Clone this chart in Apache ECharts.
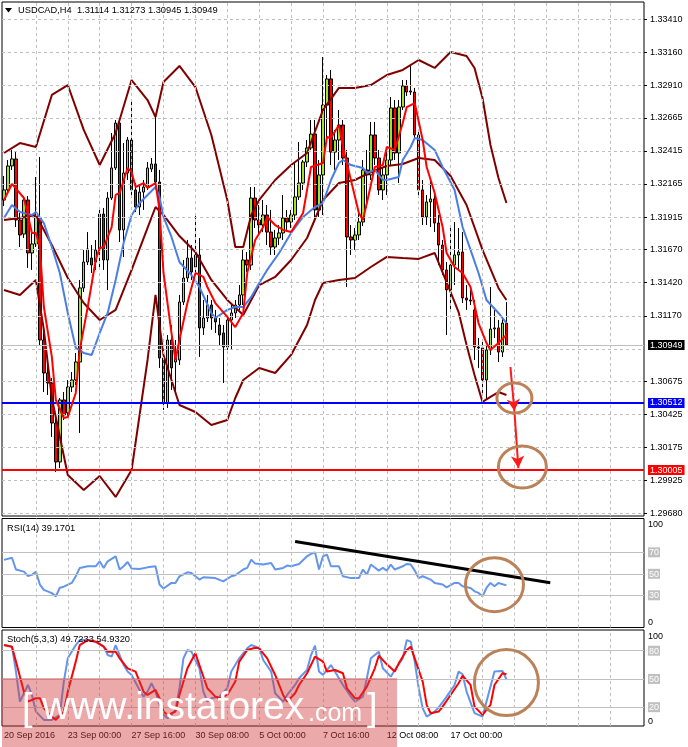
<!DOCTYPE html>
<html><head><meta charset="utf-8">
<script src="https://cdn.jsdelivr.net/npm/echarts@6/dist/echarts.min.js"></script>
<style>html,body{margin:0;padding:0;background:#fff}#c{width:688px;height:747px}</style>
</head><body><div id="c"></div>
<script>
// ---------- DATA ----------
const symbolTitle = 'USDCAD,H4  1.31114 1.31273 1.30945 1.30949';
const rsiTitle = 'RSI(14) 39.1701';
const stochTitle = 'Stoch(5,3,3) 49.7233 54.9320';
const dateLabels = ['20 Sep 2016','23 Sep 00:00','27 Sep 16:00','30 Sep 08:00','5 Oct 00:00','7 Oct 16:00','12 Oct 08:00','17 Oct 00:00'];
const labelStep = 16;
const slotCount = 161;
const priceTicks = [1.33410,1.33160,1.32910,1.32665,1.32415,1.32165,1.31915,1.31670,1.31420,1.31170,1.30920,1.30675,1.30425,1.30175,1.29925,1.29680];
const priceLabels = [1.33410,1.33160,1.32910,1.32665,1.32415,1.32165,1.31915,1.31670,1.31420,1.31170,1.30675,1.30425,1.30175,1.29925,1.29680];
const lastPrice = 1.30949;
const supportBlue = 1.30512;
const supportRed = 1.30005;

const opens = [1.32044,1.32120,1.32301,1.32354,1.31893,1.31787,1.32044,1.31644,1.31712,1.31908,
1.30987,1.30738,1.30662,1.30360,1.30066,1.30534,1.30436,1.30632,1.30685,1.30821,
1.31380,1.31576,1.31606,1.31576,1.31667,1.31938,1.31591,1.32059,1.32286,1.32625,
1.31818,1.32248,1.32497,1.32120,1.31991,1.32104,1.32142,1.32278,1.32316,1.32180,
1.30851,1.30511,1.30987,1.30821,1.30836,1.31274,1.31455,1.31606,1.31538,1.31629,
1.31078,1.31153,1.31251,1.31153,1.31100,1.31040,1.30934,1.31138,1.31191,1.31251,
1.31327,1.31591,1.31553,1.32059,1.31893,1.31855,1.31931,1.31802,1.31689,1.31757,
1.31795,1.31908,1.31878,1.31931,1.32067,1.32172,1.32331,1.32437,1.32542,1.31969,
1.32233,1.32761,1.32958,1.32406,1.32497,1.32610,1.32361,1.31765,1.31742,1.31780,
1.31878,1.32271,1.32233,1.32535,1.32361,1.32120,1.32233,1.32346,1.32739,1.32399,
1.32746,1.32905,1.32859,1.32859,1.32535,1.32120,1.31916,1.32029,1.32052,1.31870,
1.31704,1.31516,1.31365,1.31553,1.31629,1.31651,1.31304,1.31289,1.31214,1.30934,
1.30927,1.30685,1.30912,1.31070,1.31078,1.30896,1.31114];
const closes = [1.32120,1.32301,1.32354,1.31893,1.31780,1.32044,1.31644,1.31712,1.31923,1.30987,
1.30738,1.30662,1.30360,1.30066,1.30534,1.30421,1.30632,1.30685,1.30821,1.31380,
1.31576,1.31674,1.31553,1.31667,1.31938,1.31591,1.32059,1.32286,1.32625,1.31818,
1.32248,1.32497,1.32120,1.31991,1.32104,1.32142,1.32286,1.32316,1.32180,1.30851,
1.30511,1.30987,1.30776,1.30851,1.31274,1.31455,1.31606,1.31500,1.31629,1.31078,
1.31153,1.31251,1.31153,1.31123,1.31025,1.30934,1.31138,1.31191,1.31251,1.31327,
1.31591,1.31553,1.32059,1.31893,1.31855,1.31931,1.31802,1.31689,1.31757,1.31795,
1.31908,1.31878,1.31931,1.32067,1.32172,1.32331,1.32437,1.32542,1.31969,1.32233,
1.32761,1.32958,1.32406,1.32497,1.32610,1.32361,1.31765,1.31742,1.31780,1.31878,
1.32271,1.32233,1.32535,1.32361,1.32120,1.32233,1.32346,1.32739,1.32399,1.32746,
1.32905,1.32859,1.32867,1.32535,1.32120,1.31916,1.32029,1.32052,1.31870,1.31704,
1.31516,1.31365,1.31553,1.31629,1.31651,1.31304,1.31289,1.31281,1.30934,1.30927,
1.30685,1.30912,1.31070,1.31078,1.30896,1.31115,1.30949];
const lows = [1.31999,1.32104,1.32271,1.31840,1.31689,1.31757,1.31531,1.31516,1.31689,1.30949,
1.30594,1.30572,1.30255,1.29990,1.30021,1.30383,1.30413,1.30594,1.30647,1.30285,
1.31349,1.31553,1.31493,1.31516,1.31516,1.31516,1.31365,1.32044,1.32271,1.31727,
1.31614,1.32195,1.32082,1.31953,1.31931,1.31969,1.32120,1.32255,1.32157,1.30776,
1.30459,1.30474,1.30610,1.30587,1.30798,1.31251,1.31425,1.31440,1.31500,1.30859,
1.31025,1.31123,1.31063,1.31040,1.30949,1.30662,1.30912,1.30912,1.31153,1.31214,
1.31251,1.31500,1.31516,1.31833,1.31780,1.31802,1.31704,1.31629,1.31629,1.31704,
1.31742,1.31818,1.31833,1.31893,1.32044,1.32120,1.32293,1.32422,1.31878,1.31916,
1.31931,1.32497,1.32308,1.32271,1.32346,1.32308,1.31387,1.31629,1.31667,1.31742,
1.31848,1.31984,1.32195,1.32308,1.32082,1.32044,1.32082,1.32308,1.32346,1.32172,
1.32724,1.32829,1.32837,1.32497,1.32082,1.31855,1.31855,1.31840,1.31802,1.31553,
1.31478,1.31025,1.31198,1.31402,1.31516,1.31266,1.31214,1.31251,1.30836,1.30776,
1.30587,1.30534,1.30874,1.31002,1.30821,1.30859,1.30945];
const highs = [1.32225,1.32346,1.32422,1.32406,1.31946,1.32074,1.32074,1.31795,1.32218,1.32369,
1.31063,1.30798,1.30700,1.30421,1.30549,1.30594,1.30685,1.30745,1.30889,1.31440,
1.31667,1.31802,1.31704,1.31742,1.31984,1.31984,1.32104,1.32550,1.32648,1.32648,
1.32474,1.32520,1.32799,1.32172,1.32157,1.32195,1.32331,1.32361,1.32671,1.32271,
1.30912,1.31025,1.31100,1.30987,1.31327,1.31591,1.31742,1.31704,1.31931,1.31757,
1.31289,1.31327,1.31289,1.31214,1.31153,1.31100,1.31176,1.31251,1.31289,1.31402,
1.31667,1.31651,1.32142,1.32142,1.32006,1.32044,1.32006,1.31969,1.31818,1.31855,
1.32082,1.31969,1.31969,1.32323,1.32482,1.32346,1.32497,1.32648,1.32648,1.32346,
1.33124,1.32988,1.33026,1.32573,1.32724,1.32648,1.32422,1.31855,1.31833,1.31969,
1.32346,1.32422,1.32633,1.32633,1.32422,1.32286,1.32422,1.32822,1.32799,1.32799,
1.32950,1.32950,1.33063,1.32890,1.32573,1.32195,1.32082,1.32195,1.32120,1.31931,
1.31742,1.31576,1.31833,1.31878,1.31833,1.31802,1.31402,1.31365,1.31289,1.31002,
1.30987,1.30949,1.31387,1.31214,1.31138,1.31153,1.31273];

const bbUpper = [[0,1.32399],[4,1.32474],[8,1.32444],[12,1.32837],[16,1.32912],[20,1.32573],[24,1.32308],[28,1.32550],[32,1.32950],[36,1.32799],[38,1.32671],[40,1.32935],[44,1.33056],[48,1.32897],[52,1.32535],[56,1.32044],[58,1.31689],[60,1.31689],[62,1.31931],[64,1.32044],[68,1.32195],[72,1.32308],[76,1.32399],[80,1.32724],[84,1.32890],[88,1.32890],[92,1.32912],[96,1.32988],[100,1.33026],[104,1.33101],[108,1.33041],[112,1.33161],[116,1.33131],[118,1.33041],[120,1.32814],[122,1.32459],[124,1.32210],[126,1.32021]];
const bbMiddle = [[0,1.31893],[4,1.31908],[8,1.31931],[12,1.31704],[16,1.31455],[20,1.31266],[24,1.31138],[28,1.31214],[32,1.31516],[36,1.31833],[38,1.31991],[40,1.31931],[44,1.31772],[48,1.31651],[52,1.31440],[56,1.31289],[60,1.31176],[64,1.31402],[68,1.31463],[72,1.31591],[76,1.31757],[80,1.32044],[84,1.32172],[88,1.32195],[92,1.32255],[96,1.32301],[100,1.32316],[104,1.32361],[108,1.32346],[112,1.32225],[116,1.32006],[120,1.31667],[124,1.31380],[126,1.31289]];
const bbLower = [[0,1.31365],[4,1.31327],[8,1.31440],[10,1.31063],[12,1.30549],[16,1.29968],[20,1.29855],[24,1.29960],[28,1.29802],[32,1.30005],[36,1.30836],[38,1.31327],[40,1.30874],[44,1.30496],[48,1.30443],[52,1.30345],[56,1.30383],[58,1.30549],[60,1.30685],[64,1.30776],[68,1.30738],[72,1.30874],[76,1.31100],[78,1.31289],[80,1.31417],[84,1.31440],[88,1.31455],[92,1.31538],[96,1.31614],[100,1.31606],[104,1.31599],[108,1.31644],[112,1.31349],[114,1.31198],[116,1.30949],[118,1.30723],[120,1.30519],[122,1.30557],[124,1.30594],[126,1.30572]];
const maFast = [[0,1.32044],[2,1.32165],[5,1.32059],[7,1.31795],[8,1.31795],[9,1.31689],[10,1.31236],[12,1.30859],[13,1.30534],[15,1.30398],[16,1.30406],[18,1.30587],[19,1.30912],[21,1.31236],[23,1.31591],[24,1.31682],[25,1.31689],[27,1.31840],[28,1.32082],[29,1.32097],[31,1.32286],[32,1.32255],[33,1.32142],[35,1.32172],[36,1.32135],[38,1.32172],[39,1.31969],[40,1.31493],[42,1.31040],[43,1.30836],[44,1.30987],[46,1.31266],[48,1.31493],[50,1.31463],[51,1.31387],[53,1.31266],[56,1.31161],[58,1.31085],[60,1.31191],[61,1.31493],[63,1.31742],[65,1.31840],[66,1.31916],[68,1.31855],[70,1.31818],[72,1.31802],[75,1.31946],[77,1.32293],[80,1.32323],[81,1.32520],[82,1.32512],[84,1.32610],[85,1.32444],[87,1.32195],[89,1.31946],[90,1.31893],[91,1.32021],[93,1.32293],[95,1.32308],[96,1.32444],[98,1.32422],[100,1.32625],[101,1.32746],[103,1.32776],[105,1.32497],[106,1.32293],[108,1.32097],[110,1.31840],[111,1.31644],[113,1.31538],[115,1.31493],[117,1.31387],[119,1.31115],[121,1.30964],[122,1.30912],[124,1.30964],[126,1.31025]];
const maSlow = [[0,1.31908],[2,1.32006],[4,1.31953],[7,1.31931],[8,1.31953],[10,1.31870],[12,1.31689],[14,1.31493],[16,1.31191],[18,1.30927],[20,1.30889],[22,1.30874],[24,1.31040],[26,1.31191],[28,1.31440],[30,1.31719],[32,1.31931],[34,1.32021],[36,1.32082],[38,1.32142],[39,1.32067],[40,1.31916],[42,1.31765],[44,1.31576],[47,1.31478],[49,1.31387],[52,1.31191],[53,1.31153],[56,1.31214],[58,1.31236],[60,1.31236],[62,1.31312],[64,1.31417],[66,1.31516],[69,1.31644],[72,1.31795],[75,1.31916],[78,1.31991],[80,1.32021],[82,1.32195],[84,1.32323],[85,1.32346],[87,1.32308],[90,1.32286],[91,1.32248],[93,1.32271],[95,1.32195],[96,1.32195],[99,1.32218],[100,1.32346],[102,1.32444],[103,1.32512],[105,1.32497],[108,1.32422],[110,1.32293],[113,1.32120],[115,1.31840],[117,1.31667],[119,1.31493],[121,1.31289],[124,1.31191],[126,1.31115]];
const rsi = [[0,63],[2,65],[3,54],[5,52],[6,48],[7,49],[8,52],[9,40],[10,35],[12,32],[13,29],[14,37],[15,38],[17,41.5],[18,47.7],[19,55.5],[21,57],[23,57],[24,61.6],[25,55.5],[26,61.6],[28,66.3],[29,54],[30,57],[31,61],[32,55],[34,54.5],[36,56],[38,57],[39,40],[40,36.3],[42,41.5],[43,41.5],[44,47.7],[46,51.4],[47,50.8],[49,44.6],[50,46.8],[53,46],[55,43],[57,47.7],[58,48.6],[60,54],[61,55.5],[62,63.2],[63,59.5],[64,59.2],[65,58.6],[67,60],[68,54],[70,55.5],[71,57.7],[72,57],[74,59.2],[76,66.3],[77,68.5],[78,70],[79,54],[80,66.3],[81,67.8],[82,57],[84,57],[85,47.7],[87,46],[89,46],[90,54],[91,49.3],[92,58.6],[94,53],[95,55.5],[96,53],[97,58.6],[98,54],[100,57],[101,59.2],[102,58.6],[103,53],[104,46],[105,47.7],[107,44.6],[108,41.5],[110,40],[111,37.4],[113,41.5],[114,41.5],[115,38.4],[117,36.8],[118,33.7],[119,32.2],[120,29],[121,36.8],[122,41.5],[123,38.4],[124,41.5],[126,39.2]];
const stochMain = [[0,86],[2,84.3],[3,57.8],[4,26],[6,43.6],[7,33],[8,15.3],[10,6.5],[12,6.5],[14,11.8],[15,47.2],[16,71.9],[18,86],[19,91.3],[21,91.3],[23,89.6],[25,84.3],[26,75.4],[27,73.7],[28,86],[29,75.4],[30,64.8],[31,57.8],[32,54.2],[34,38.3],[35,31.2],[36,36.5],[37,45.4],[38,36.5],[39,22.4],[40,11.8],[41,8.3],[42,11.8],[43,17.1],[44,40.1],[45,71.9],[46,80.7],[47,79],[49,61.3],[50,36.5],[51,25.9],[52,29.5],[54,31.2],[56,40.1],[57,57.8],[59,71.9],[61,82.5],[62,86],[64,83],[65,70.1],[67,57.8],[68,34.8],[70,25.9],[71,33],[73,43.6],[74,50.7],[76,59.5],[77,75.4],[78,85.3],[79,57.8],[80,54.2],[82,64.8],[83,57.8],[85,43.6],[87,31.2],[88,25.9],[90,31.2],[91,50.7],[92,71.9],[94,79],[95,61.3],[97,52.4],[98,59.5],[100,71.9],[101,91.3],[102,89.6],[103,68.4],[104,40.1],[105,18.9],[106,10],[108,15.3],[109,19.6],[111,31.2],[113,43.6],[114,57.8],[115,55],[116,36.5],[118,13.6],[120,10],[121,25.9],[123,57.8],[125,58.5],[126,49.7]];
const stochSignal = [[0,86],[2,84.3],[3,68.4],[5,36.5],[6,25.9],[8,29.5],[9,29.5],[10,18.9],[12,10],[13,6.5],[15,15.3],[16,36.5],[18,68.4],[19,86],[21,91.3],[23,89.6],[25,84.3],[26,79],[28,79],[29,71.9],[31,61.3],[33,57.8],[34,47.2],[35,36.5],[36,33],[38,38.3],[39,29.5],[40,15.3],[41,11.8],[43,15.3],[44,33],[46,61.3],[48,77.2],[49,64.8],[51,40.1],[53,31.2],[54,29.5],[56,33],[58,47.2],[59,68.4],[61,80.7],[63,83.2],[64,82.5],[66,71.9],[68,54.2],[70,33],[71,25.9],[73,34.8],[74,43.6],[76,56],[78,73.7],[80,68.4],[81,57.8],[83,59.5],[85,56],[86,40.1],[88,29.5],[89,29.5],[91,41.8],[93,61.3],[94,74.7],[96,65.5],[98,57.8],[99,66.6],[101,80.7],[102,84.3],[103,71.9],[105,47.2],[106,22.4],[107,13.6],[109,15.3],[110,20.6],[112,33],[114,45.4],[115,53.5],[117,43.6],[118,20.6],[120,11.8],[122,22.4],[123,43.6],[125,56],[126,54.9]];
const rsiLevels = [70,50,30];
const stochLevels = [80,50,20];
// annotations (data coordinates)
const rsiTrend = [[73,80.0],[137,41.7]];
const arrowA = [[127,1.30783],[128,1.30450]];
const arrowB = [[128,1.30450],[129,1.30020]];
const circles = [
  {grid:0, at:[128,1.30549], rx:17.5, ry:15},
  {grid:0, at:[130,1.30028], rx:24, ry:21},
  {grid:1, at:[123,39.9], rx:29, ry:27},
  {grid:2, at:[126,46.2], rx:32, ry:33}
];

// ---------- CHART ----------
const FONT = 'Liberation Sans, Arial, sans-serif';
const cats = Array.from({length: slotCount}, (_, i) => String(i));
const vGrid = []; for (let k = 8; k < slotCount - 4; k += 8) vGrid.push(k);
const dash = {color:'#c0c0c0', type:[3,3], width:1};
const solid = {color:'#c0c0c0', type:'solid', width:1};

function gridHelper(gi, hVals, hStyle, extra) {
  return {
    type:'line', xAxisIndex:gi, yAxisIndex:gi, data:[], z:1, silent:true,
    markLine:{silent:true, precision:10, symbol:['none','none'], animation:false, label:{show:false},
      data: vGrid.map(k => ({xAxis:k, lineStyle:dash})).concat(hVals.map(v => ({yAxis:v, lineStyle:hStyle}))).concat(extra || [])}
  };
}
function lineS(gi, data, color, width, z) {
  return {type:'line', xAxisIndex:gi, yAxisIndex:gi, data:data, showSymbol:false, symbol:'none',
    lineStyle:{color:color, width:width}, z:z || 3, silent:true, animation:false};
}
function levelLine(value, color, width, bg) {
  return {yAxis:value, lineStyle:{color:color, width:width, type:'solid'},
    label:{show:true, position:'end', distance:4, formatter:value.toFixed(5), backgroundColor:bg, color:'#fff',
      padding:[1,2,0,2], fontSize:9, fontFamily:FONT}};
}

const chart = echarts.init(document.getElementById('c'), null, {width:688, height:747});
const gridBox = {show:true, borderColor:'#000', borderWidth:1, backgroundColor:'rgba(0,0,0,0)'};
const option = {
  animation:false,
  backgroundColor:'#fff',
  grid:[
    Object.assign({left:2, top:2, width:642, height:514}, gridBox),
    Object.assign({left:2, top:518.5, width:642, height:109}, gridBox),
    Object.assign({left:2, top:630, width:642, height:96}, gridBox)
  ],
  xAxis:[0,1,2].map(gi => ({
    type:'category', gridIndex:gi, data:cats, boundaryGap:true,
    axisLine:{show:false}, axisTick:{show:false}, splitLine:{show:false},
    axisLabel: gi === 2 ? {show:true, interval:(idx) => idx % labelStep === 0 && idx / labelStep < dateLabels.length,
      formatter:(val, idx) => dateLabels[Math.round(idx / labelStep)] || '', align:'left', fontSize:9, fontFamily:FONT, color:'#000', margin:5}
      : {show:false}
  })),
  yAxis:[
    {type:'value', gridIndex:0, position:'right', min:1.29658, max:1.33539,
     axisLine:{show:false}, splitLine:{show:false},
     axisTick:{show:true, length:3, customValues:priceLabels, lineStyle:{color:'#000'}},
     axisLabel:{customValues:priceLabels, formatter:(v) => v.toFixed(5), fontSize:9, fontFamily:FONT, color:'#000', margin:6}},
    {type:'value', gridIndex:1, position:'right', min:0, max:101.5,
     axisLine:{show:false}, splitLine:{show:false}, axisTick:{show:false},
     axisLabel:{customValues:[0,30,50,70,100], verticalAlignMinLabel:'bottom', verticalAlignMaxLabel:'top',
       formatter:(v) => rsiLevels.indexOf(v) >= 0 ? '{g|' + v + '}' : String(v),
       rich:{g:{backgroundColor:'#c0c0c0', color:'#fff', padding:[1,1,0,1], fontSize:9, fontFamily:FONT}},
       fontSize:9, fontFamily:FONT, color:'#000', margin:4}},
    {type:'value', gridIndex:2, position:'right', min:0, max:102,
     axisLine:{show:false}, splitLine:{show:false}, axisTick:{show:false},
     axisLabel:{customValues:[0,20,50,80,100], verticalAlignMinLabel:'bottom', verticalAlignMaxLabel:'top',
       formatter:(v) => stochLevels.indexOf(v) >= 0 ? '{g|' + v + '}' : String(v),
       rich:{g:{backgroundColor:'#c0c0c0', color:'#fff', padding:[1,1,0,1], fontSize:9, fontFamily:FONT}},
       fontSize:9, fontFamily:FONT, color:'#000', margin:4}}
  ],
  series:[
    gridHelper(0, priceTicks, dash, [{yAxis:lastPrice, lineStyle:solid,
      label:{show:true, position:'end', distance:4, formatter:lastPrice.toFixed(5), backgroundColor:'#000', color:'#fff', padding:[1,2,0,2], fontSize:9, fontFamily:FONT}}]),
    gridHelper(1, rsiLevels, solid),
    gridHelper(2, stochLevels, solid),
    {type:'candlestick', xAxisIndex:0, yAxisIndex:0, barWidth:3, z:2, silent:true,
     data: opens.map((o, i) => [o, closes[i], lows[i], highs[i]]),
     itemStyle:{color:'#a3e22c', color0:'#ff0000', borderColor:'#000', borderColor0:'#000', borderColorDoji:'#000', borderWidth:1}},
    lineS(0, bbUpper, '#800000', 2),
    lineS(0, bbMiddle, '#800000', 2),
    lineS(0, bbLower, '#800000', 2),
    lineS(0, maSlow, '#4a7ee6', 2, 4),
    lineS(0, maFast, '#ff0000', 2, 5),
    {type:'line', xAxisIndex:0, yAxisIndex:0, data:[], z:6, silent:true,
     markLine:{silent:true, precision:10, symbol:['none','none'], animation:false,
       data:[levelLine(supportBlue, '#0000ff', 2, '#0000ff'), levelLine(supportRed, '#ff0000', 2, '#ff0000')]}},
    {type:'line', xAxisIndex:0, yAxisIndex:0, data:[], z:7, silent:true,
     markLine:{silent:true, precision:10, symbol:['none','arrow'], symbolSize:[10,12], animation:false, label:{show:false},
       lineStyle:{color:'#ff1a1a', width:2, type:'solid'},
       data:[[{coord:arrowA[0]},{coord:arrowA[1]}],[{coord:arrowB[0]},{coord:arrowB[1]}]]}},
    lineS(1, rsi, '#6495ed', 2),
    {type:'line', xAxisIndex:1, yAxisIndex:1, data:[], z:6, silent:true,
     markLine:{silent:true, precision:10, symbol:['none','none'], animation:false, label:{show:false},
       lineStyle:{color:'#000', width:3, type:'solid'},
       data:[[{coord:rsiTrend[0]},{coord:rsiTrend[1]}]]}},
    lineS(2, stochMain, '#6495ed', 2),
    lineS(2, stochSignal, '#ff0000', 2, 4)
  ],
  graphic:[
    {type:'polygon', shape:{points:[[5,8],[12,8],[8.5,12.5]]}, style:{fill:'#000'}, z:50},
    {type:'text', x:18, y:10, style:{text:symbolTitle, fill:'#000', fontSize:9.3, fontFamily:FONT, verticalAlign:'middle'}, z:50},
    {type:'text', x:7, y:528, style:{text:rsiTitle, fill:'#000', fontSize:9.3, fontFamily:FONT, verticalAlign:'middle'}, z:50},
    {type:'text', x:7, y:639, style:{text:stochTitle, fill:'#000', fontSize:9.3, fontFamily:FONT, verticalAlign:'middle'}, z:50}
  ]
};
chart.setOption(option);

// annotation ellipses positioned through the library's scales
const extra = circles.map(c => {
  const p = chart.convertToPixel({gridIndex:c.grid}, c.at);
  return {type:'ellipse', shape:{cx:p[0], cy:p[1], rx:c.rx, ry:c.ry}, style:{fill:'none', stroke:'#bb8259', lineWidth:3}, z:60, silent:true};
});
// watermark
extra.push({type:'rect', shape:{x:2, y:678, width:395, height:69}, style:{fill:'rgba(212,55,55,0.43)'}, z:70, silent:true});
extra.push({type:'text', x:22, y:710, style:{text:'[', fill:'#fff', fontSize:38, fontFamily:FONT, verticalAlign:'middle'}, z:71, silent:true});
extra.push({type:'text', x:42, y:708, style:{text:'www.instaforex', fill:'#fff', fontSize:39, fontFamily:FONT, verticalAlign:'middle'}, z:71, silent:true});
extra.push({type:'text', x:308, y:714, style:{text:'.com', fill:'#fff', fontSize:25, fontFamily:FONT, verticalAlign:'middle'}, z:71, silent:true});
extra.push({type:'text', x:367, y:710, style:{text:']', fill:'#fff', fontSize:38, fontFamily:FONT, verticalAlign:'middle'}, z:71, silent:true});
chart.setOption({graphic: option.graphic.concat(extra)});
</script>
</body></html>
